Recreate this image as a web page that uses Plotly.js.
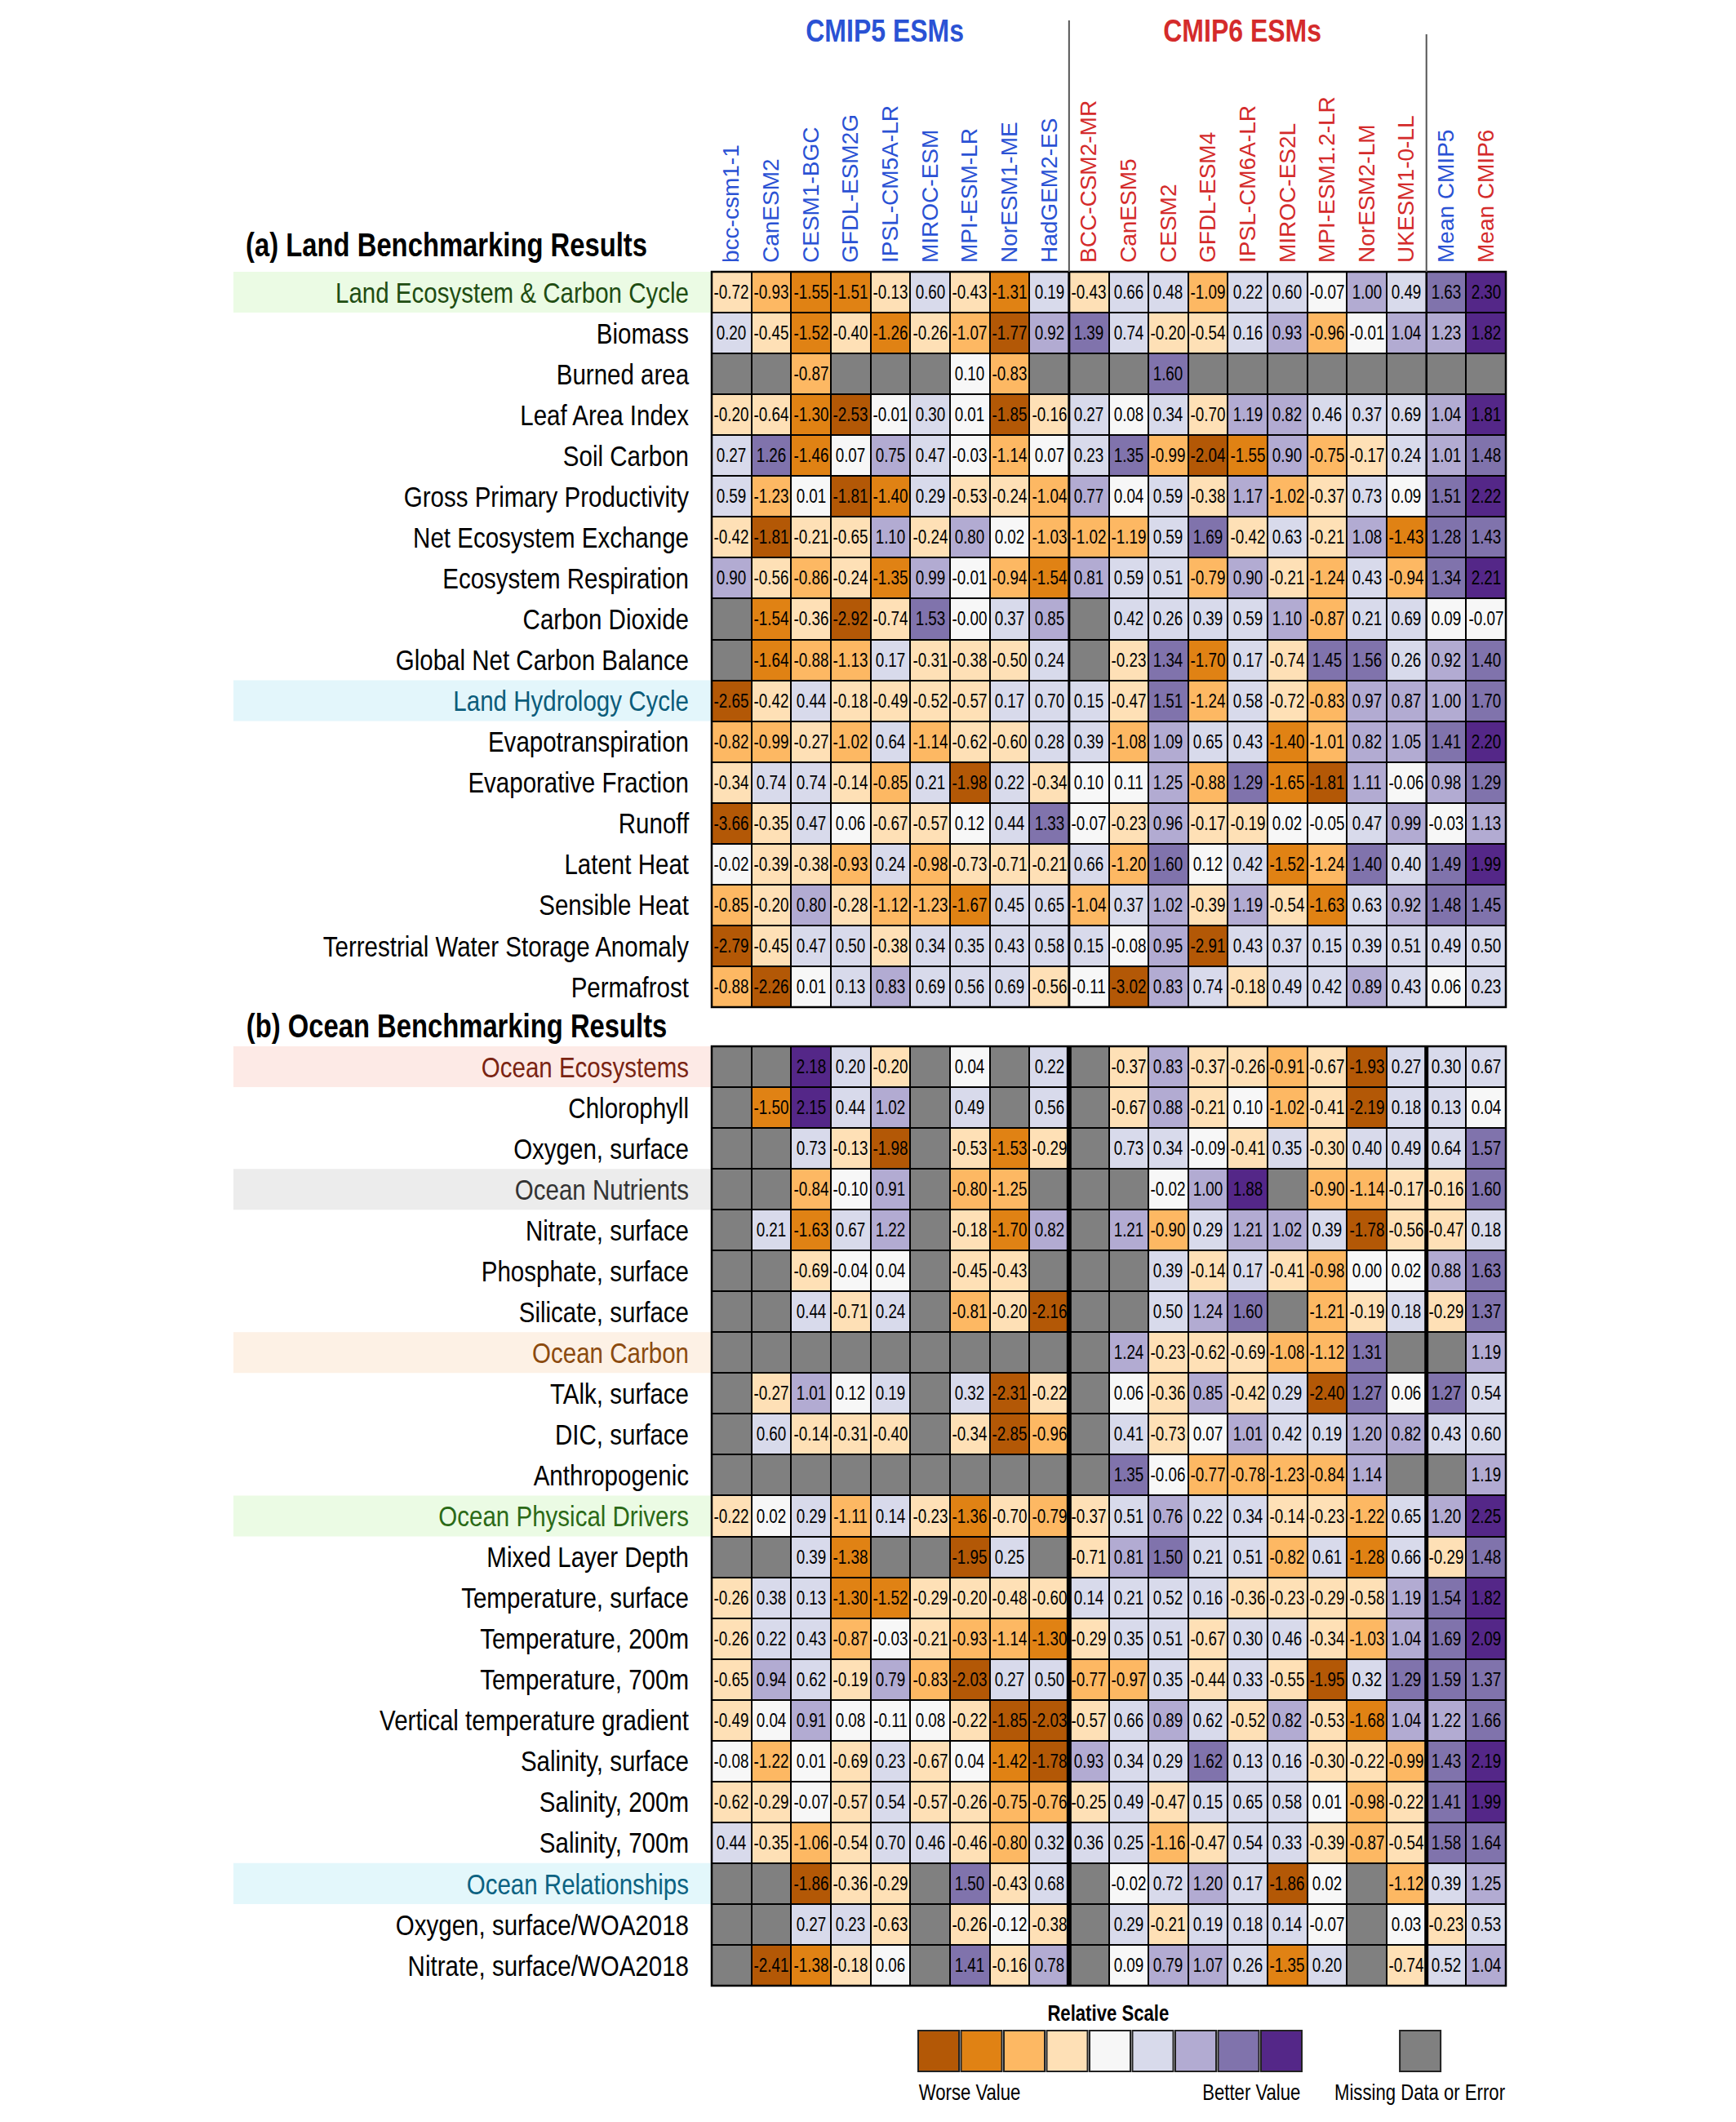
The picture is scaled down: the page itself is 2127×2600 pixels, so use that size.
<!DOCTYPE html>
<html>
<head>
<meta charset="utf-8">
<script src="https://cdn.plot.ly/plotly-3.0.1.min.js"></script>
<style>html,body{margin:0;padding:0;background:#fff;}#chart{width:2127px;height:2600px;}</style>
</head>
<body>
<div id="chart"></div>
<script>
// ---------------- DATA ----------------
const models = ['bcc-csm1-1','CanESM2','CESM1-BGC','GFDL-ESM2G','IPSL-CM5A-LR','MIROC-ESM','MPI-ESM-LR','NorESM1-ME','HadGEM2-ES',
  'BCC-CSM2-MR','CanESM5','CESM2','GFDL-ESM4','IPSL-CM6A-LR','MIROC-ES2L','MPI-ESM1.2-LR','NorESM2-LM','UKESM1-0-LL',
  'Mean CMIP5','Mean CMIP6'];
const modelGroup = ['CMIP5','CMIP5','CMIP5','CMIP5','CMIP5','CMIP5','CMIP5','CMIP5','CMIP5',
  'CMIP6','CMIP6','CMIP6','CMIP6','CMIP6','CMIP6','CMIP6','CMIP6','CMIP6','CMIP5','CMIP6'];

const N = null;
const landRows = ['Land Ecosystem & Carbon Cycle','Biomass','Burned area','Leaf Area Index','Soil Carbon','Gross Primary Productivity',
  'Net Ecosystem Exchange','Ecosystem Respiration','Carbon Dioxide','Global Net Carbon Balance','Land Hydrology Cycle',
  'Evapotranspiration','Evaporative Fraction','Runoff','Latent Heat','Sensible Heat','Terrestrial Water Storage Anomaly','Permafrost'];
const landScores = [
  [-0.72,-0.93,-1.55,-1.51,-0.13,0.60,-0.43,-1.31,0.19, -0.43,0.66,0.48,-1.09,0.22,0.60,-0.07,1.00,0.49, 1.63,2.30],
  [0.20,-0.45,-1.52,-0.40,-1.26,-0.26,-1.07,-1.77,0.92, 1.39,0.74,-0.20,-0.54,0.16,0.93,-0.96,-0.01,1.04, 1.23,1.82],
  [N,N,-0.87,N,N,N,0.10,-0.83,N, N,N,1.60,N,N,N,N,N,N, N,N],
  [-0.20,-0.64,-1.30,-2.53,-0.01,0.30,0.01,-1.85,-0.16, 0.27,0.08,0.34,-0.70,1.19,0.82,0.46,0.37,0.69, 1.04,1.81],
  [0.27,1.26,-1.46,0.07,0.75,0.47,-0.03,-1.14,0.07, 0.23,1.35,-0.99,-2.04,-1.55,0.90,-0.75,-0.17,0.24, 1.01,1.48],
  [0.59,-1.23,0.01,-1.81,-1.40,0.29,-0.53,-0.24,-1.04, 0.77,0.04,0.59,-0.38,1.17,-1.02,-0.37,0.73,0.09, 1.51,2.22],
  [-0.42,-1.81,-0.21,-0.65,1.10,-0.24,0.80,0.02,-1.03, -1.02,-1.19,0.59,1.69,-0.42,0.63,-0.21,1.08,-1.43, 1.28,1.43],
  [0.90,-0.56,-0.86,-0.24,-1.35,0.99,-0.01,-0.94,-1.54, 0.81,0.59,0.51,-0.79,0.90,-0.21,-1.24,0.43,-0.94, 1.34,2.21],
  [N,-1.54,-0.36,-2.92,-0.74,1.53,-0.00,0.37,0.85, N,0.42,0.26,0.39,0.59,1.10,-0.87,0.21,0.69, 0.09,-0.07],
  [N,-1.64,-0.88,-1.13,0.17,-0.31,-0.38,-0.50,0.24, N,-0.23,1.34,-1.70,0.17,-0.74,1.45,1.56,0.26, 0.92,1.40],
  [-2.65,-0.42,0.44,-0.18,-0.49,-0.52,-0.57,0.17,0.70, 0.15,-0.47,1.51,-1.24,0.58,-0.72,-0.83,0.97,0.87, 1.00,1.70],
  [-0.82,-0.99,-0.27,-1.02,0.64,-1.14,-0.62,-0.60,0.28, 0.39,-1.08,1.09,0.65,0.43,-1.40,-1.01,0.82,1.05, 1.41,2.20],
  [-0.34,0.74,0.74,-0.14,-0.85,0.21,-1.98,0.22,-0.34, 0.10,0.11,1.25,-0.88,1.29,-1.65,-1.81,1.11,-0.06, 0.98,1.29],
  [-3.66,-0.35,0.47,0.06,-0.67,-0.57,0.12,0.44,1.33, -0.07,-0.23,0.96,-0.17,-0.19,0.02,-0.05,0.47,0.99, -0.03,1.13],
  [-0.02,-0.39,-0.38,-0.93,0.24,-0.98,-0.73,-0.71,-0.21, 0.66,-1.20,1.60,0.12,0.42,-1.52,-1.24,1.40,0.40, 1.49,1.99],
  [-0.85,-0.20,0.80,-0.28,-1.12,-1.23,-1.67,0.45,0.65, -1.04,0.37,1.02,-0.39,1.19,-0.54,-1.63,0.63,0.92, 1.48,1.45],
  [-2.79,-0.45,0.47,0.50,-0.38,0.34,0.35,0.43,0.58, 0.15,-0.08,0.95,-2.91,0.43,0.37,0.15,0.39,0.51, 0.49,0.50],
  [-0.88,-2.26,0.01,0.13,0.83,0.69,0.56,0.69,-0.56, -0.11,-3.02,0.83,0.74,-0.18,0.49,0.42,0.89,0.43, 0.06,0.23]
];

const oceanRows = ['Ocean Ecosystems','Chlorophyll','Oxygen, surface','Ocean Nutrients','Nitrate, surface','Phosphate, surface',
  'Silicate, surface','Ocean Carbon','TAlk, surface','DIC, surface','Anthropogenic','Ocean Physical Drivers','Mixed Layer Depth',
  'Temperature, surface','Temperature, 200m','Temperature, 700m','Vertical temperature gradient','Salinity, surface',
  'Salinity, 200m','Salinity, 700m','Ocean Relationships','Oxygen, surface/WOA2018','Nitrate, surface/WOA2018'];
const oceanScores = [
  [N,N,2.18,0.20,-0.20,N,0.04,N,0.22, N,-0.37,0.83,-0.37,-0.26,-0.91,-0.67,-1.93,0.27, 0.30,0.67],
  [N,-1.50,2.15,0.44,1.02,N,0.49,N,0.56, N,-0.67,0.88,-0.21,0.10,-1.02,-0.41,-2.19,0.18, 0.13,0.04],
  [N,N,0.73,-0.13,-1.98,N,-0.53,-1.53,-0.29, N,0.73,0.34,-0.09,-0.41,0.35,-0.30,0.40,0.49, 0.64,1.57],
  [N,N,-0.84,-0.10,0.91,N,-0.80,-1.25,N, N,N,-0.02,1.00,1.88,N,-0.90,-1.14,-0.17, -0.16,1.60],
  [N,0.21,-1.63,0.67,1.22,N,-0.18,-1.70,0.82, N,1.21,-0.90,0.29,1.21,1.02,0.39,-1.78,-0.56, -0.47,0.18],
  [N,N,-0.69,-0.04,0.04,N,-0.45,-0.43,N, N,N,0.39,-0.14,0.17,-0.41,-0.98,0.00,0.02, 0.88,1.63],
  [N,N,0.44,-0.71,0.24,N,-0.81,-0.20,-2.16, N,N,0.50,1.24,1.60,N,-1.21,-0.19,0.18, -0.29,1.37],
  [N,N,N,N,N,N,N,N,N, N,1.24,-0.23,-0.62,-0.69,-1.08,-1.12,1.31,N, N,1.19],
  [N,-0.27,1.01,0.12,0.19,N,0.32,-2.31,-0.22, N,0.06,-0.36,0.85,-0.42,0.29,-2.40,1.27,0.06, 1.27,0.54],
  [N,0.60,-0.14,-0.31,-0.40,N,-0.34,-2.85,-0.96, N,0.41,-0.73,0.07,1.01,0.42,0.19,1.20,0.82, 0.43,0.60],
  [N,N,N,N,N,N,N,N,N, N,1.35,-0.06,-0.77,-0.78,-1.23,-0.84,1.14,N, N,1.19],
  [-0.22,0.02,0.29,-1.11,0.14,-0.23,-1.36,-0.70,-0.79, -0.37,0.51,0.76,0.22,0.34,-0.14,-0.23,-1.22,0.65, 1.20,2.25],
  [N,N,0.39,-1.38,N,N,-1.95,0.25,N, -0.71,0.81,1.50,0.21,0.51,-0.82,0.61,-1.28,0.66, -0.29,1.48],
  [-0.26,0.38,0.13,-1.30,-1.52,-0.29,-0.20,-0.48,-0.60, 0.14,0.21,0.52,0.16,-0.36,-0.23,-0.29,-0.58,1.19, 1.54,1.82],
  [-0.26,0.22,0.43,-0.87,-0.03,-0.21,-0.93,-1.14,-1.30, -0.29,0.35,0.51,-0.67,0.30,0.46,-0.34,-1.03,1.04, 1.69,2.09],
  [-0.65,0.94,0.62,-0.19,0.79,-0.83,-2.03,0.27,0.50, -0.77,-0.97,0.35,-0.44,0.33,-0.55,-1.95,0.32,1.29, 1.59,1.37],
  [-0.49,0.04,0.91,0.08,-0.11,0.08,-0.22,-1.85,-2.03, -0.57,0.66,0.89,0.62,-0.52,0.82,-0.53,-1.68,1.04, 1.22,1.66],
  [-0.08,-1.22,0.01,-0.69,0.23,-0.67,0.04,-1.42,-1.78, 0.93,0.34,0.29,1.62,0.13,0.16,-0.30,-0.22,-0.99, 1.43,2.19],
  [-0.62,-0.29,-0.07,-0.57,0.54,-0.57,-0.26,-0.75,-0.76, -0.25,0.49,-0.47,0.15,0.65,0.58,0.01,-0.98,-0.22, 1.41,1.99],
  [0.44,-0.35,-1.06,-0.54,0.70,0.46,-0.46,-0.80,0.32, 0.36,0.25,-1.16,-0.47,0.54,0.33,-0.39,-0.87,-0.54, 1.58,1.64],
  [N,N,-1.86,-0.36,-0.29,N,1.50,-0.43,0.68, N,-0.02,0.72,1.20,0.17,-1.86,0.02,N,-1.12, 0.39,1.25],
  [N,N,0.27,0.23,-0.63,N,-0.26,-0.12,-0.38, N,0.29,-0.21,0.19,0.18,0.14,-0.07,N,0.03, -0.23,0.53],
  [N,-2.41,-1.38,-0.18,0.06,N,1.41,-0.16,0.78, N,0.09,0.79,1.07,0.26,-1.35,0.20,N,-0.74, 0.52,1.04]
];

const legendValues = [-2, -1.5, -1, -0.5, 0, 0.5, 1, 1.5, 2];

// ---------------- STYLE ----------------
const W = 2127, H = 2600;
const px = v => v / W, py = v => 1 - v / H;
// "Arimo" in the stack marks texts that get horizontally condensed (Arial-Narrow look)
const NARROW = "Liberation Sans, Arimo, sans-serif";
const SANS = "Liberation Sans, Arial, sans-serif";
const CONDENSE = 0.82;
const GRAY = '#808080';
const binColors = ['#b35806','#e08214','#fdb863','#fee0b6','#f7f7f7','#d8daeb','#b2abd2','#8073ac','#542788'];
const binEdges = [-1.75,-1.255,-0.745,-0.125,0.125,0.745,1.255,1.75];
const zmin = -2, zmax = 2;
const cs = [];
(function(){ let prev = 0; binColors.forEach((c,i)=>{ const hi = i < binEdges.length ? (binEdges[i]-zmin)/(zmax-zmin) : 1; cs.push([prev,c]); cs.push([hi,c]); prev = hi; }); })();

const groupColor = {CMIP5:'#2a52d4', CMIP6:'#d42b2b'};
const sectionStyle = {
  'Land Ecosystem & Carbon Cycle': {text:'#1f4d12', band:'#ebfbe4'},
  'Land Hydrology Cycle': {text:'#0b5c7a', band:'#e3f6fb'},
  'Ocean Ecosystems': {text:'#7a2412', band:'#fdeae6'},
  'Ocean Nutrients': {text:'#333333', band:'#ececec'},
  'Ocean Carbon': {text:'#8b4a0e', band:'#fdf1e5'},
  'Ocean Physical Drivers': {text:'#2b6a17', band:'#ebfbe4'},
  'Ocean Relationships': {text:'#0b6282', band:'#e3f7fb'}
};

const fmt = v => v === null ? '' : (((v < 0) || Object.is(v, -0)) ? '-' : '') + Math.abs(v).toFixed(2);
const esc = s => s.replace(/&/g,'&amp;');

function tableTraces(rows, scores, yaxis){
  const missing = scores.map(r => r.map(v => v === null ? 1 : null));
  const text = scores.map(r => r.map(fmt));
  return [
    {type:'heatmap', x:models, y:rows, z:missing, xaxis:'x', yaxis:yaxis,
     colorscale:[[0,GRAY],[1,GRAY]], zmin:0, zmax:1, showscale:false, xgap:2, ygap:2, hoverinfo:'skip'},
    {type:'heatmap', x:models, y:rows, z:scores, text:text, texttemplate:'%{text}',
     textfont:{family:NARROW, size:23, color:'#000'}, xaxis:'x', yaxis:yaxis,
     colorscale:cs, zmin:zmin, zmax:zmax, showscale:false, xgap:2, ygap:2, hoverinfo:'skip'}
  ];
}

const LEG_X0 = 1150, LEG_PITCH = 52.5, GRAY_POS = 11.24;
const traces = [].concat(
  tableTraces(landRows, landScores, 'y'),
  tableTraces(oceanRows, oceanScores, 'y2'),
  [{type:'scatter', mode:'markers', x:legendValues.map((v,i)=>i), y:legendValues.map(()=>0), xaxis:'x3', yaxis:'y3',
    marker:{symbol:'square', size:50, color:legendValues, colorscale:cs, cmin:zmin, cmax:zmax, line:{color:'#222', width:2}},
    hoverinfo:'skip'},
   {type:'scatter', mode:'markers', x:[GRAY_POS], y:[0], xaxis:'x3', yaxis:'y3',
    marker:{symbol:'square', size:50, color:GRAY, line:{color:'#222', width:2}}, hoverinfo:'skip'}]
);

const rowTickText = (rows) => rows.map(r => sectionStyle[r] ? `<span style="color:${sectionStyle[r].text}">${esc(r)}</span>` : esc(r));

const shapes = [];
function tableShapes(rows, yref, thick){
  const ydom = yref + ' domain';
  shapes.push({type:'rect', xref:'x domain', yref:ydom, x0:0, x1:1, y0:0, y1:1, fillcolor:'#000', line:{width:0}, layer:'below'});
  rows.forEach((r,i)=>{ if (sectionStyle[r]) shapes.push({type:'rect', xref:'paper', yref:yref, x0:px(286), x1:px(872), y0:i-0.5, y1:i+0.5, fillcolor:sectionStyle[r].band, line:{width:0}, layer:'below'}); });
  shapes.push({type:'line', xref:'x', yref:ydom, x0:8.5, x1:8.5, y0:0, y1:1, line:{color:'#000', width:thick ? 6 : 3}});
  shapes.push({type:'line', xref:'x', yref:ydom, x0:17.5, x1:17.5, y0:0, y1:1, line:{color:'#000', width:thick ? 5 : 2.5}});
  shapes.push({type:'rect', xref:'x domain', yref:ydom, x0:0, x1:1, y0:0, y1:1, line:{color:'#000', width:2.5}});
}
tableShapes(landRows, 'y', false);
tableShapes(oceanRows, 'y2', true);
shapes.push({type:'line', xref:'x', yref:'paper', x0:8.5, x1:8.5, y0:py(333), y1:py(25), line:{color:'#555', width:2}});
shapes.push({type:'line', xref:'x', yref:'paper', x0:17.5, x1:17.5, y0:py(333), y1:py(42), line:{color:'#555', width:2}});

const ann = (text, x, y, size, color) => ({text, x:px(x), y:py(y), xref:'paper', yref:'paper', showarrow:false,
  xanchor:'center', yanchor:'middle', font:{family:NARROW, size:size, color:color || '#000'}});

// centres are used for all annotations so the horizontal condensation keeps them in place
const annotations = [
  ann('<b>CMIP5 ESMs</b>', 1084, 37, 39, '#2a52d4'),
  ann('<b>CMIP6 ESMs</b>', 1522, 37, 39, '#d42b2b'),
  ann('<b>(a) Land Benchmarking Results</b>', 547, 300, 40),
  ann('<b>(b) Ocean Benchmarking Results</b>', 559, 1257, 40),
  ann('<b>Relative Scale</b>', 1358, 2467, 27),
  ann('Worse Value', 1188, 2564, 27),
  ann('Better Value', 1533, 2564, 27),
  ann('Missing Data or Error', 1739, 2564, 27)
];

const yCommon = {anchor:'x', type:'category', autorange:'reversed', ticks:'', ticklabelstandoff:27,
  tickfont:{family:NARROW, size:36, color:'#000'}, showgrid:false, zeroline:false, showline:false, fixedrange:true};

const layout = {
  width:W, height:H, margin:{l:0, r:0, t:0, b:0}, paper_bgcolor:'#fff', plot_bgcolor:'rgba(0,0,0,0)',
  showlegend:false, font:{family:NARROW, color:'#000'},
  xaxis:{domain:[px(872), px(1845)], side:'top', anchor:'y', type:'category', tickmode:'array', tickvals:models,
    ticktext:models.map((m,i)=>`<span style="color:${groupColor[modelGroup[i]]}">${m}</span>`),
    tickangle:-90, ticks:'', ticklabelstandoff:10, tickfont:{family:SANS, size:28},
    showgrid:false, zeroline:false, showline:false, fixedrange:true},
  yaxis:Object.assign({}, yCommon, {domain:[py(1234), py(333)], tickmode:'array', tickvals:landRows, ticktext:rowTickText(landRows)}),
  yaxis2:Object.assign({}, yCommon, {domain:[py(2433), py(1282)], tickmode:'array', tickvals:oceanRows, ticktext:rowTickText(oceanRows)}),
  xaxis3:{domain:[px(1100), px(1860)], anchor:'y3', range:[(1100-LEG_X0)/LEG_PITCH, (1860-LEG_X0)/LEG_PITCH], visible:false, fixedrange:true},
  yaxis3:{domain:[py(2543), py(2483)], anchor:'x3', range:[-1, 1], visible:false, fixedrange:true},
  shapes:shapes, annotations:annotations
};

Plotly.newPlot('chart', traces, layout, {displayModeBar:false, staticPlot:true}).then(gd => {
  // Arial-Narrow-like look: scale the narrow-styled texts horizontally about their anchor point
  gd.querySelectorAll('text').forEach(t => {
    const fam = (t.style && t.style.fontFamily) || t.getAttribute('font-family') || '';
    if (fam.indexOf('Arimo') === -1) return;
    const bb = t.getBBox();
    if (!bb || bb.width <= 0) return;
    const anchor = (window.getComputedStyle(t).textAnchor || t.getAttribute('text-anchor') || 'start');
    const a = anchor === 'end' ? bb.x + bb.width : (anchor === 'middle' ? bb.x + bb.width / 2 : bb.x);
    const prev = t.getAttribute('transform') || '';
    t.setAttribute('transform', `${prev} translate(${a.toFixed(2)},0) scale(${CONDENSE},1) translate(${(-a).toFixed(2)},0)`.trim());
  });
});
</script>
</body>
</html>
